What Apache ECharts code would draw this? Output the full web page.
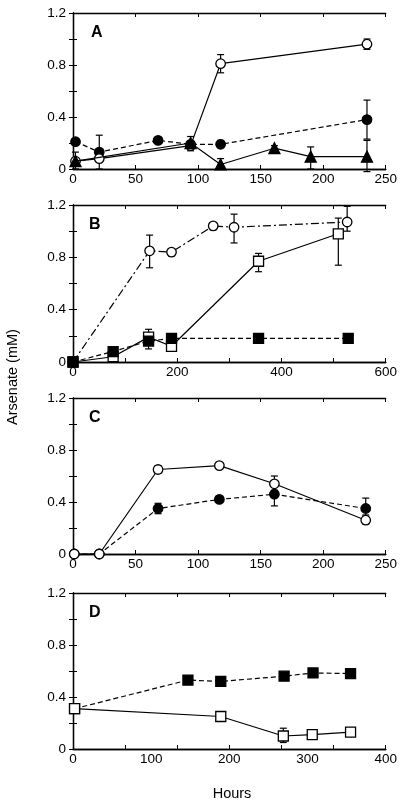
<!DOCTYPE html>
<html>
<head>
<meta charset="utf-8">
<script src="https://cdn.jsdelivr.net/npm/echarts@6/dist/echarts.min.js"></script>
<style>html,body{margin:0;padding:0;background:#fff}#c{width:400px;height:806px}</style>
</head>
<body>
<div id="c"></div>
<script>
// ---------- Data ----------
// Panel A
const A_hours_open = [2, 21, 94, 118, 235];
const A_open = [0.06, 0.08, 0.18, 0.81, 0.96];
const A_open_err = [[94, 0.14, 0.21], [118, 0.74, 0.88], [235, 0.92, 1.0]];
const A_hours_filled = [2, 21, 68, 94, 118, 235];
const A_filled = [0.21, 0.13, 0.22, 0.19, 0.19, 0.38];
const A_filled_err = [[21, 0.0, 0.26], [68, 0.20, 0.24], [118, 0.17, 0.22], [235, 0.23, 0.53]];
const A_hours_tri = [2, 94, 118, 161, 190, 235];
const A_tri = [0.06, 0.20, 0.035, 0.16, 0.095, 0.095];
const A_tri_err = [[2, 0.0, 0.13], [94, 0.16, 0.25], [118, 0.0, 0.08], [161, 0.15, 0.18], [190, 0.0, 0.17], [235, -0.02, 0.22]];
// Panel B
const B_hours_open = [0, 147, 189, 269, 309, 526];
const B_open = [0, 0.85, 0.84, 1.04, 1.03, 1.07];
const B_open_err = [[147, 0.72, 0.97], [189, 0.81, 0.86], [269, 1.01, 1.06], [309, 0.91, 1.13], [526, 1.0, 1.19]];
const B_hours_osq = [0, 77, 145, 189, 356, 509];
const B_osq = [0, 0.04, 0.19, 0.12, 0.77, 0.98];
const B_osq_err = [[145, 0.10, 0.25], [356, 0.69, 0.83], [509, 0.74, 1.1]];
const B_hours_fsq = [0, 77, 145, 189, 356, 528];
const B_fsq = [0, 0.08, 0.16, 0.18, 0.18, 0.18];
// Panel C
const C_hours = [1, 21, 68, 117, 161, 234];
const C_open = [0, 0, 0.65, 0.68, 0.54, 0.26];
const C_open_err = [[68, 0.62, 0.68], [161, 0.49, 0.60], [234, 0.23, 0.29]];
const C_filled = [0, 0, 0.35, 0.42, 0.46, 0.35];
const C_filled_err = [[68, 0.31, 0.39], [117, 0.40, 0.44], [161, 0.37, 0.55], [234, 0.30, 0.43]];
// Panel D
const D_hours_open = [2, 189, 269, 306, 355];
const D_open = [0.31, 0.25, 0.10, 0.11, 0.13];
const D_open_err = [[269, 0.05, 0.16]];
const D_hours_filled = [2, 147, 189, 270, 307, 355];
const D_filled = [0.31, 0.53, 0.52, 0.56, 0.585, 0.58];
// Axis ticks
const yTickLabels = ['0', '0.4', '0.8', '1.2'];
const panelLetters = ['A', 'B', 'C', 'D'];

// ---------- Layout ----------
const FONT = 'Liberation Sans, Arial, sans-serif';
const panels = [
  {top: 13, height: 156, xmax: 250, labelInt: 50, tickInt: 50},
  {top: 205, height: 157, xmax: 600, labelInt: 200, tickInt: 100},
  {top: 398, height: 156, xmax: 250, labelInt: 50, tickInt: 50},
  {top: 593, height: 156, xmax: 400, labelInt: 100, tickInt: 400 / 6}
];
const grids = [], xAxes = [], yAxes = [], series = [], graphics = [];
const axisLine = {show: true, lineStyle: {color: '#000', width: 1.3}};
panels.forEach((p, i) => {
  grids.push({left: 73, right: 11, top: p.top, height: p.height});
  const xb = xAxes.length;
  xAxes.push({type: 'value', gridIndex: i, min: 0, max: p.xmax, interval: p.labelInt, position: 'bottom',
    axisLine, axisTick: {show: false}, splitLine: {show: false},
    axisLabel: {color: '#000', fontSize: 13.5, fontFamily: FONT, margin: 3}});
  xAxes.push({type: 'value', gridIndex: i, min: 0, max: p.xmax, interval: p.tickInt, position: 'bottom',
    axisLine, axisTick: {show: true, inside: true, length: 4, lineStyle: {color: '#000', width: 1}},
    splitLine: {show: false}, axisLabel: {show: false}});
  xAxes.push({type: 'value', gridIndex: i, min: 0, max: p.xmax, interval: p.tickInt, position: 'top',
    axisLine, axisTick: {show: true, inside: true, length: 4, lineStyle: {color: '#000', width: 1}},
    splitLine: {show: false}, axisLabel: {show: false}});
  const yb = yAxes.length;
  yAxes.push({type: 'value', gridIndex: i, min: 0, max: 1.2, interval: 0.2, position: 'left',
    axisLine, axisTick: {show: true, inside: true, length: 4, lineStyle: {color: '#000', width: 1}},
    splitLine: {show: false},
    axisLabel: {color: '#000', fontSize: 13.5, fontFamily: FONT, margin: 7,
      formatter: v => { const k = Math.round(v / 0.4 * 1000) / 1000; return Number.isInteger(k) ? yTickLabels[k] : ''; }}});
  yAxes.push({type: 'value', gridIndex: i, min: 0, max: 1.2, interval: 0.2, position: 'right',
    axisLine, axisTick: {show: true, inside: true, length: 4, lineStyle: {color: '#000', width: 1}},
    splitLine: {show: false}, axisLabel: {show: false}});
  p.xi = xb; p.yi = yb;
  graphics.push({type: 'text', left: 89 + (i === 0 ? 2 : 0), top: p.top + 12,
    style: {text: panelLetters[i], font: 'bold 16px ' + FONT, fill: '#000'}});
});

const zip = (xs, ys) => xs.map((x, k) => [x, ys[k]]);
const STY = {
  openC: {symbol: 'circle', symbolSize: 9.5, fill: '#fff'},
  fillC: {symbol: 'circle', symbolSize: 9.5, fill: '#000'},
  tri: {symbol: 'triangle', symbolSize: 11, fill: '#000'},
  openS: {symbol: 'rect', symbolSize: 10, fill: '#fff'},
  fillS: {symbol: 'rect', symbolSize: 10, fill: '#000'}
};
function line(pi, xs, ys, sty, dash, z) {
  const p = panels[pi];
  series.push({type: 'line', xAxisIndex: p.xi, yAxisIndex: p.yi, data: zip(xs, ys),
    symbol: sty.symbol, symbolSize: sty.symbolSize, showAllSymbol: true, animation: false, z: z || 3,
    lineStyle: {color: '#000', width: 1.2, type: dash || 'solid'},
    itemStyle: {color: sty.fill, borderColor: '#000', borderWidth: 1.3}});
}
function errs(pi, data) {
  const p = panels[pi];
  series.push({type: 'custom', xAxisIndex: p.xi, yAxisIndex: p.yi, data: data, z: 2, animation: false,
    renderItem: (params, api) => {
      const x = api.value(0);
      const a = api.coord([x, api.value(2)]), b = api.coord([x, api.value(1)]);
      const st = {stroke: '#000', lineWidth: 1.2};
      return {type: 'group', children: [
        {type: 'line', shape: {x1: a[0], y1: a[1], x2: b[0], y2: b[1]}, style: st},
        {type: 'line', shape: {x1: a[0] - 3.5, y1: a[1], x2: a[0] + 3.5, y2: a[1]}, style: st},
        {type: 'line', shape: {x1: b[0] - 3.5, y1: b[1], x2: b[0] + 3.5, y2: b[1]}, style: st}
      ]};
    }});
}
const DASH = [5, 3];
const DASHDOT = [8, 3, 2, 3];
// A
errs(0, A_open_err); errs(0, A_filled_err); errs(0, A_tri_err);
line(0, A_hours_filled, A_filled, STY.fillC, DASH);
line(0, A_hours_open, A_open, STY.openC, 'solid', 4);
line(0, A_hours_tri, A_tri, STY.tri, 'solid', 5);
// B
errs(1, B_open_err); errs(1, B_osq_err);
line(1, B_hours_open, B_open, STY.openC, DASHDOT);
line(1, B_hours_osq, B_osq, STY.openS, 'solid');
line(1, B_hours_fsq, B_fsq, STY.fillS, DASH, 4);
// C
errs(2, C_open_err); errs(2, C_filled_err);
line(2, C_hours, C_filled, STY.fillC, DASH);
line(2, C_hours, C_open, STY.openC, 'solid');
// D
errs(3, D_open_err);
line(3, D_hours_filled, D_filled, STY.fillS, DASH);
line(3, D_hours_open, D_open, STY.openS, 'solid', 4);

graphics.push({type: 'text', x: 13, y: 377, rotation: Math.PI / 2,
  style: {text: 'Arsenate (mM)', font: '14.5px ' + FONT, fill: '#000', textAlign: 'center', textVerticalAlign: 'middle'}});
graphics.push({type: 'text', x: 232, y: 794,
  style: {text: 'Hours', font: '14.5px ' + FONT, fill: '#000', textAlign: 'center', textVerticalAlign: 'middle'}});

const chart = echarts.init(document.getElementById('c'), null, {renderer: 'canvas'});
chart.setOption({animation: false, backgroundColor: '#fff', grid: grids, xAxis: xAxes, yAxis: yAxes, series: series, graphic: graphics});
</script>
</body>
</html>
